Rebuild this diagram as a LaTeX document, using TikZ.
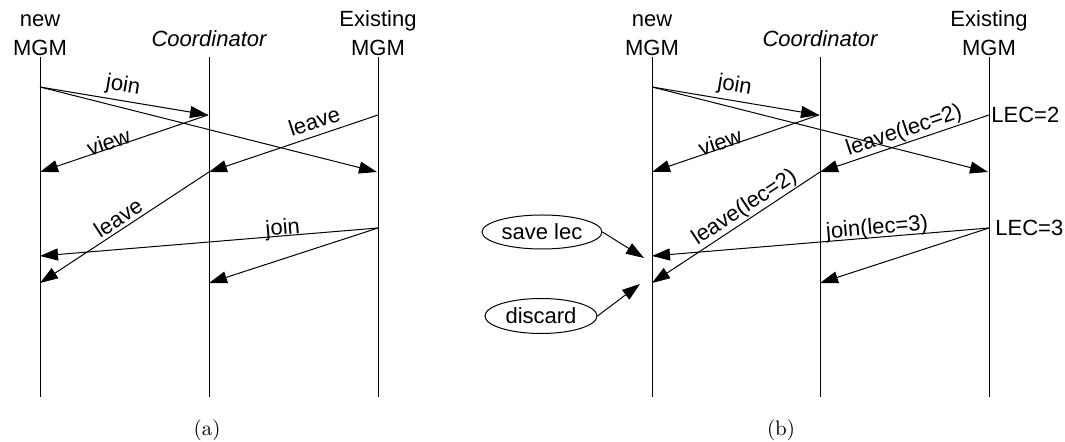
\documentclass[tikz,border=0pt]{standalone}
\usepackage{fontspec}
\setsansfont{Liberation Sans}
\usetikzlibrary{positioning, arrows.meta, shapes.geometric}

\begin{document}
\begin{tikzpicture}[
          x=0.5pt, y=-0.5pt,
          lbl/.style={font=\sffamily\fontsize{11}{14.5}\selectfont},
          head/.style={lbl, align=center, inner sep=0pt},
          life/.style={line width=0.5pt},
          msg/.style={line width=0.5pt, -{Triangle[length=9pt,width=6pt]}},
          tag/.style={lbl, sloped, above, inner sep=1pt},
          note/.style={lbl, ellipse, draw, line width=0.5pt, inner sep=0pt}
        ]
        \useasboundingbox (0,0) rectangle (1065,442);

        % (a)
        \coordinate (nAtop) at (40,57);
        \coordinate (cAtop) at (209,57);
        \coordinate (eAtop) at (378,57);
        \node[head, above=0.5pt of nAtop] (newA) {new\\MGM};
        \node[head, above=5pt of cAtop] (coA) {\itshape Coordinator};
        \node[head, above=0.5pt of eAtop] (exA) {Existing\\MGM};
        \coordinate (nAbot) at (40,397);
        \coordinate (cAbot) at (209,397);
        \coordinate (eAbot) at (378,397);
        \draw[life] (nAtop) -- (nAbot);
        \draw[life] (cAtop) -- (cAbot);
        \draw[life] (eAtop) -- (eAbot);

        \coordinate (nA1) at (40,87);
        \coordinate (cA2) at (208,115);
        \coordinate (eA2) at (378,115);
        \coordinate (nA3) at (40,172);
        \coordinate (cA3) at (209,172);
        \coordinate (eA3) at (377,172);
        \coordinate (eA4) at (378,228);
        \coordinate (nA5) at (40,256);
        \coordinate (nA6) at (40,283);
        \coordinate (cA6) at (209,283);

        \draw[msg] (nA1) -- node[tag, pos=0.48, inner sep=2pt] {join} (cA2);
        \draw[msg] (nA1) -- (eA3);
        \draw[msg] (cA2) -- node[tag, pos=0.58, above=-1pt, inner sep=0pt] {view} (nA3);
        \draw[msg] (eA2) -- node[tag, pos=0.35, inner sep=3pt] {leave} (cA3);
        \draw[msg] (cA3) -- node[tag, inner sep=1.5pt] {leave} (nA6);
        \draw[msg] (eA4) -- node[tag, pos=0.28, above=-2pt, inner sep=0pt] {join} (nA5);
        \draw[msg] (eA4) -- (cA6);

        \node (capA) at (207,430) {\fontsize{10.5}{12}\selectfont (a)};

        % (b)
        \coordinate (nBtop) at (652,57);
        \coordinate (cBtop) at (820,57);
        \coordinate (eBtop) at (989,57);
        \node[head, above=0.5pt of nBtop] (newB) {new\\MGM};
        \node[head, above=5pt of cBtop] (coB) {\itshape Coordinator};
        \node[head, above=0.5pt of eBtop] (exB) {Existing\\MGM};
        \coordinate (nBbot) at (652,397);
        \coordinate (cBbot) at (820,397);
        \coordinate (eBbot) at (989,397);
        \draw[life] (nBtop) -- (nBbot);
        \draw[life] (cBtop) -- (cBbot);
        \draw[life] (eBtop) -- (eBbot);

        \coordinate (nB1) at (652,87);
        \coordinate (cB2) at (819,115);
        \coordinate (eB2) at (989,115);
        \coordinate (nB3) at (652,172);
        \coordinate (cB3) at (820,172);
        \coordinate (eB3) at (988,172);
        \coordinate (eB4) at (989,228);
        \coordinate (nB5) at (652,256);
        \coordinate (nB6) at (652,283);
        \coordinate (cB6) at (820,283);

        \draw[msg] (nB1) -- node[tag, pos=0.48, inner sep=2pt] {join} (cB2);
        \draw[msg] (nB1) -- (eB3);
        \draw[msg] (cB2) -- node[tag, pos=0.58, above=-1pt, inner sep=0pt] {view} (nB3);
        \draw[msg] (eB2) -- node[tag, pos=0.48, inner sep=0.5pt] {leave(lec=2)} (cB3);
        \draw[msg] (cB3) -- node[tag, pos=0.41, inner sep=0.5pt] {leave(lec=2)} (nB6);
        \draw[msg] (eB4) -- node[tag, pos=0.33, above=-1pt, inner sep=0pt] {join(lec=3)} (nB5);
        \draw[msg] (eB4) -- (cB6);

        \node[lbl, right=1pt of eB2, inner sep=0pt] (lec2) {LEC=2};
        \node[lbl, right=3pt of eB4, inner sep=0pt] (lec3) {LEC=3};

        \node[note, minimum width=60pt, minimum height=17pt] (save) at (542,232) {save lec};
        \node[note, minimum width=56pt, minimum height=17.5pt] (discard) at (541,316) {discard};
        \coordinate (saveto) at (644,258);
        \coordinate (discto) at (640,284);
        \draw[msg] (save.east) -- (saveto);
        \draw[msg] (discard.east) -- (discto);

        \node (capB) at (781,430) {\fontsize{10.5}{12}\selectfont (b)};
      \end{tikzpicture}
\end{document}
